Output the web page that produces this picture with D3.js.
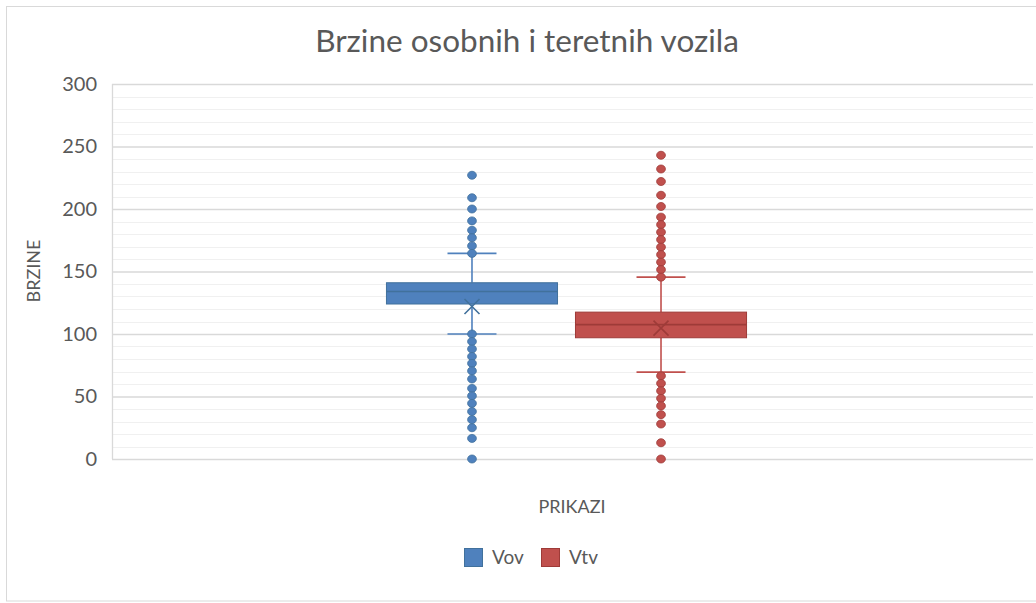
<!DOCTYPE html>
<html><head><meta charset="utf-8">
<script src="https://cdn.jsdelivr.net/npm/d3@7"></script>
<style>
html,body{margin:0;padding:0;background:#fff;}
svg text{font-family:Lato,"Open Sans",sans-serif;fill:#595959;}
</style></head>
<body><svg id="c" width="1036" height="603"></svg>
<script>
const title = "Brzine osobnih i teretnih vozila";
const xTitle = "PRIKAZI";
const yTitle = "BRZINE";
const series = ["Vov", "Vtv"];
const colors = ["#4F81BD", "#C0504D"];
const strokes = ["#41719C", "#9E3B38"];
const q1 = [124, 97];
const median = [134, 107.5];
const q3 = [141, 117.5];
const whiskerLow = [100, 69.5];
const whiskerHigh = [164.5, 145.5];
const mean = [122, 104.7];
const outliersVov = [227, 209, 200, 190.5, 183, 177, 170.5, 164.5, 100, 94, 88, 82, 76.5, 70.5, 64, 56.5, 50.5, 44.5, 38, 31.5, 25, 16.5, 0];
const outliersVtv = [243, 232, 222, 211, 202, 193.5, 187.5, 181.5, 175.5, 169.5, 163.5, 157.5, 151.5, 145.5, 66.5, 60.5, 54.5, 48.5, 42.5, 35.5, 28, 13, 0];
const yTicks = [0, 50, 100, 150, 200, 250, 300];
const yMinor = d3.range(0, 301, 10);

const svg = d3.select("#c");
const plot = {l: 112, r: 1033, t: 84, b: 459};

// outer border
svg.append("rect").attr("x", 6.5).attr("y", 6.5).attr("width", 1040).attr("height", 594.5)
  .attr("fill", "#fff").attr("stroke", "#d9d9d9").attr("stroke-width", 1);

const y = d3.scaleLinear().domain([0, 300]).range([plot.b, plot.t]);
const x = d3.scaleBand().domain(series).range([plot.l, 1021]).paddingInner(0.095).paddingOuter(1.452);

// minor gridlines
svg.append("g").selectAll("line").data(yMinor.filter(v => v % 50 !== 0)).join("line")
  .attr("x1", plot.l).attr("x2", plot.r)
  .attr("y1", d => Math.round(y(d)) + 0.5).attr("y2", d => Math.round(y(d)) + 0.5)
  .attr("stroke", "#f0f0f0").attr("stroke-width", 1);
// major gridlines via axis
const yAxis = d3.axisLeft(y).tickValues(yTicks).tickSize(-(plot.r - plot.l)).tickPadding(15);
const gy = svg.append("g").attr("transform", `translate(${plot.l},0)`).call(yAxis);
gy.select(".domain").remove();
gy.selectAll(".tick line").attr("stroke", "#d9d9d9").attr("stroke-width", 1.3);
gy.selectAll(".tick text").attr("font-size", 20).style("fill", "#595959")
  .attr("font-family", "Lato, 'Open Sans', sans-serif");

// plot area border (left)
svg.append("line").attr("x1", plot.l + 0.5).attr("x2", plot.l + 0.5).attr("y1", plot.t).attr("y2", plot.b)
  .attr("stroke", "#d9d9d9").attr("stroke-width", 1.3);

// boxes
series.forEach((s, i) => {
  const cx = x(s) + x.bandwidth() / 2;
  const g = svg.append("g");
  const capW = 49;
  // whiskers
  g.append("line").attr("x1", cx).attr("x2", cx).attr("y1", y(whiskerHigh[i])).attr("y2", y(q3[i]))
    .attr("stroke", colors[i]).attr("stroke-width", 1.6);
  g.append("line").attr("x1", cx).attr("x2", cx).attr("y1", y(q1[i])).attr("y2", y(whiskerLow[i]))
    .attr("stroke", colors[i]).attr("stroke-width", 1.6);
  [whiskerHigh[i], whiskerLow[i]].forEach(v => {
    g.append("line").attr("x1", cx - capW / 2).attr("x2", cx + capW / 2).attr("y1", y(v)).attr("y2", y(v))
      .attr("stroke", colors[i]).attr("stroke-width", 1.6);
  });
  // outliers
  const outs = i === 0 ? outliersVov : outliersVtv;
  g.selectAll("ellipse").data(outs).join("ellipse")
    .attr("cx", cx).attr("cy", d => y(d)).attr("rx", 4.4).attr("ry", 4)
    .attr("fill", colors[i]).attr("stroke", strokes[i]).attr("stroke-width", 0.8);
  // box
  g.append("rect").attr("x", x(s)).attr("width", x.bandwidth())
    .attr("y", y(q3[i])).attr("height", y(q1[i]) - y(q3[i]))
    .attr("fill", colors[i]).attr("stroke", strokes[i]).attr("stroke-width", 1);
  // median
  g.append("line").attr("x1", x(s)).attr("x2", x(s) + x.bandwidth()).attr("y1", y(median[i])).attr("y2", y(median[i]))
    .attr("stroke", strokes[i]).attr("stroke-width", 1.6);
  // mean X
  const my = y(mean[i]), h = 7.5;
  g.append("path").attr("d", `M${cx - h},${my - h}L${cx + h},${my + h}M${cx - h},${my + h}L${cx + h},${my - h}`)
    .attr("stroke", strokes[i]).attr("stroke-width", 1.6).attr("fill", "none");
});

// title
svg.append("text").attr("x", 527).attr("y", 52).attr("text-anchor", "middle")
  .attr("font-size", 31.5).text(title);
// axis titles
svg.append("text").attr("x", 572).attr("y", 513).attr("text-anchor", "middle")
  .attr("font-size", 18).text(xTitle);
svg.append("text").attr("transform", "translate(40,271) rotate(-90)").attr("text-anchor", "middle")
  .attr("font-size", 18).text(yTitle);

// legend
const legX = [464, 541];
series.forEach((s, i) => {
  svg.append("rect").attr("x", legX[i] + 0.5).attr("y", 548.5).attr("width", 18).attr("height", 18)
    .attr("fill", colors[i]).attr("stroke", strokes[i]).attr("stroke-width", 1);
  svg.append("text").attr("x", legX[i] + 28).attr("y", 564).attr("font-size", 19).text(s);
});
</script></body></html>
